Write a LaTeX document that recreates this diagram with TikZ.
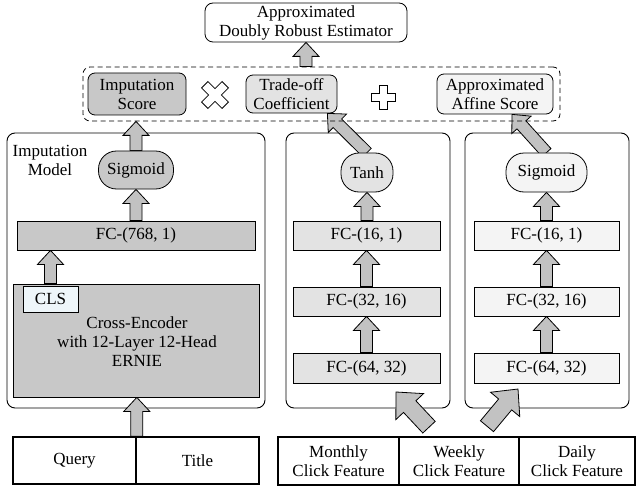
\documentclass[tikz,border=0pt]{standalone}
\usepackage{fontspec}
\setmainfont{Liberation Serif}
\usetikzlibrary{calc}
\pgfdeclarelayer{back}
\pgfdeclarelayer{mid}
\pgfsetlayers{back,mid,main}
\definecolor{dk}{HTML}{C8C8C8}
\definecolor{md}{HTML}{E3E3E3}
\definecolor{lt}{HTML}{F4F4F4}
\definecolor{clsc}{HTML}{EEF6FA}
\definecolor{arrc}{HTML}{C2C2C2}
% block arrow: #1 from, #2 to, #3 half shaft, #4 half head, #5 head length
\newcommand\blockarr[5]{%
 \draw[arrsty] let \p1=(#1), \p2=(#2),
   \n1={atan2(\y2-\y1,\x2-\x1)}, \n2={veclen(\x2-\x1,\y2-\y1)-#5},
   \n3={cos(\n1)}, \n4={sin(\n1)} in
   ({\x1+#3*\n4},{\y1-#3*\n3}) -- ({\x1+\n2*\n3+#3*\n4},{\y1+\n2*\n4-#3*\n3})
   -- ({\x1+\n2*\n3+#4*\n4},{\y1+\n2*\n4-#4*\n3}) -- (\p2)
   -- ({\x1+\n2*\n3-#4*\n4},{\y1+\n2*\n4+#4*\n3}) -- ({\x1+\n2*\n3-#3*\n4},{\y1+\n2*\n4+#3*\n3})
   -- ({\x1-#3*\n4},{\y1+#3*\n3}) -- cycle;}
\newcommand\sarr[2]{\blockarr{#1}{#2}{6pt}{13pt}{14pt}}
\newcommand\barr[2]{\blockarr{#1}{#2}{8.5pt}{19pt}{20pt}}
\begin{document}
\begin{tikzpicture}[x=1pt,y=-1pt,font=\fontsize{17}{19}\selectfont,
  box/.style={draw, line width=0.8pt, inner sep=0pt, align=center},
  panel/.style={draw, line width=0.9pt, rounded corners=8pt, fill=white, inner sep=0pt},
  rbox/.style={box, rounded corners=7pt},
  pill/.style={box, rounded corners=18pt},
  fcbox/.style={box, minimum height=29pt},
  inbox/.style={draw, line width=1.6pt, inner sep=0pt, align=center, minimum height=47pt},
  arrsty/.style={draw, line width=0.8pt, fill=arrc, line join=miter},
  icon/.style={draw, line width=0.8pt, fill=white}]
\useasboundingbox (0,0) rectangle (636,489);

% panels
\begin{pgfonlayer}{back}
\node[panel, minimum width=258pt, minimum height=275pt] (panL) at (136,270.5) {};
\node[panel, minimum width=164pt, minimum height=275pt] (panM) at (368,270.5) {};
\node[panel, minimum width=164pt, minimum height=275pt] (panR) at (547,270.5) {};
\end{pgfonlayer}

% top
\node[box, rounded corners=8pt, minimum width=202pt, minimum height=39pt] (est) at (306,22.5) {Approximated\\Doubly Robust Estimator};
\node[draw, line width=0.8pt, dash pattern=on 5pt off 3.5pt, rounded corners=7pt, minimum width=477pt, minimum height=54pt, inner sep=0pt] (dash) at (321.5,94) {};
\node[rbox, fill=dk, minimum width=98pt, minimum height=42pt] (imps) at (137,94) {Imputation\\Score};
\node[rbox, fill=md, minimum width=91pt, minimum height=38pt] (trade) at (291.5,94) {Trade-off\\Coefficient};
\node[rbox, fill=lt, minimum width=116pt, minimum height=40pt] (aff) at (495,94) {Approximated\\Affine Score};
\draw[icon, shift={(215,95)}, rotate=45] (-4.5,-14.5) -- (4.5,-14.5) -- (4.5,-4.5) -- (14.5,-4.5) -- (14.5,4.5) -- (4.5,4.5) -- (4.5,14.5) -- (-4.5,14.5) -- (-4.5,4.5) -- (-14.5,4.5) -- (-14.5,-4.5) -- (-4.5,-4.5) -- cycle;
\draw[icon, shift={(383,97)}] (-4,-12) -- (4,-12) -- (4,-4) -- (12,-4) -- (12,4) -- (4,4) -- (4,12) -- (-4,12) -- (-4,4) -- (-12,4) -- (-12,-4) -- (-4,-4) -- cycle;

% left model
\node[align=center, inner sep=0pt] (lblL) at (50,160) {Imputation\\Model};
\node[pill, fill=dk, minimum width=75pt, minimum height=38pt] (sigL) at (136,170) {Sigmoid};
\node[fcbox, fill=dk, minimum width=238pt] (fcL) at (136,235.5) {FC-(768, 1)};
\node[box, fill=dk, minimum width=246pt, minimum height=113pt] (enc) at (136,340.5) {};
\node[align=center, inner sep=0pt] (encT) at (137,342) {Cross-Encoder\\with 12-Layer 12-Head\\ERNIE};
\node[box, fill=clsc, minimum width=55pt, minimum height=26pt] (cls) at (50.5,299) {CLS};
\node[inbox, minimum width=123pt] (query) at (74.5,460.5) {Query};
\node[inbox, minimum width=123pt] (title) at (197.5,460.5) {Title};

% middle model
\node[pill, fill=md, minimum width=52pt, minimum height=39pt] (tanh) at (367,172.5) {Tanh};
\node[fcbox, fill=md, minimum width=147pt] (fc16M) at (366.5,235.5) {FC-(16, 1)};
\node[fcbox, fill=md, minimum width=147pt] (fc32M) at (366.5,301.5) {FC-(32, 16)};
\node[fcbox, fill=md, minimum width=147pt, minimum height=30pt] (fc64M) at (366.5,368) {FC-(64, 32)};

% right model
\node[pill, fill=lt, minimum width=81pt, minimum height=39pt] (sigR) at (546.5,172.5) {Sigmoid};
\node[fcbox, fill=lt, minimum width=145pt] (fc16R) at (546.5,235.5) {FC-(16, 1)};
\node[fcbox, fill=lt, minimum width=145pt] (fc32R) at (546.5,301.5) {FC-(32, 16)};
\node[fcbox, fill=lt, minimum width=145pt, minimum height=30pt] (fc64R) at (546.5,368) {FC-(64, 32)};

% features
\node[inbox, minimum width=121pt, minimum height=48pt] (month) at (338.5,461) {Monthly\\Click Feature};
\node[inbox, minimum width=120pt, minimum height=48pt] (week) at (459,461) {Weekly\\Click Feature};
\node[inbox, minimum width=116pt, minimum height=48pt] (daily) at (577,461) {Daily\\Click Feature};

% helper coordinates
\coordinate (tT) at ($(trade.south east)+(-10,0)$);
\coordinate (tA) at ($(aff.south)+(17,0)$);
\coordinate (bl) at ($(week.north)+(-30,-9)$);
\coordinate (br) at ($(week.north)+(28,-10)$);
\coordinate (tipM) at (396,392);
\coordinate (tipR) at (518,389);

% arrows
\begin{pgfonlayer}{mid}
\sarr{est.south |- dash.north}{est.south}
\sarr{sigL.north}{sigL.north |- dash.south}
\sarr{fcL.north -| sigL.south}{sigL.south}
\sarr{cls.north |- enc.north}{cls.north |- fcL.south}
\sarr{query.north east}{query.north east |- enc.south}
\sarr{fc16M.north -| tanh.south}{tanh.south}
\sarr{fc32M.north}{fc16M.south}
\sarr{fc64M.north}{fc32M.south}
\sarr{fc16R.north -| sigR.south}{sigR.south}
\sarr{fc32R.north}{fc16R.south}
\sarr{fc64R.north}{fc32R.south}
\sarr{tanh.north}{tT}
\sarr{sigR.north}{tA}
\barr{bl}{tipM}
\barr{br}{tipR}
\end{pgfonlayer}
\end{tikzpicture}
\end{document}
